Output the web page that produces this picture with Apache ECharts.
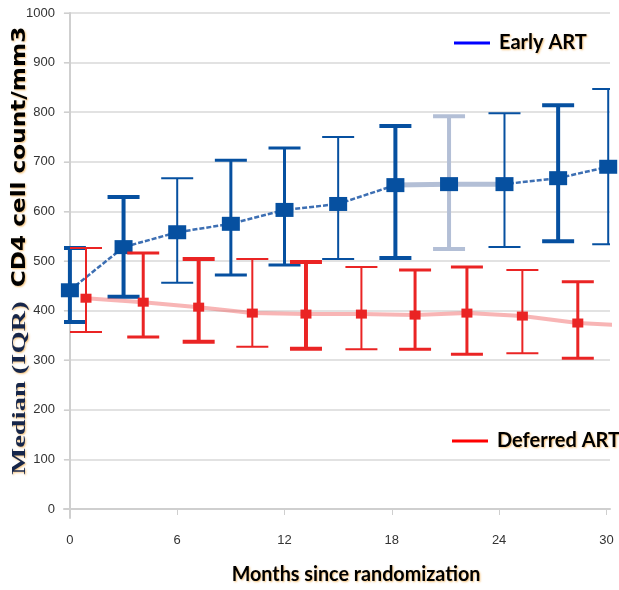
<!DOCTYPE html>
<html>
<head>
<meta charset="utf-8">
<script src="https://cdn.jsdelivr.net/npm/echarts@6/dist/echarts.min.js"></script>
<style>
html,body{margin:0;padding:0;background:#fff;}
#chart{width:619px;height:590px;}
</style>
</head>
<body>
<div id="chart"></div>
<script>
// ---- data ----
const xTicks = [0, 6, 12, 18, 24, 30];
const yTicks = [0, 100, 200, 300, 400, 500, 600, 700, 800, 900, 1000];

const earlyMonths = [0, 3, 6, 9, 12, 15, 18.2, 21.2, 24.3, 27.3, 30.1];
const earlyMedian = [441, 528, 558, 575, 603, 615, 653, 655, 655, 667, 690];
const earlyQ1     = [377, 428, 456, 472, 492, 504, 506, 524, 528, 540, 534];
const earlyQ3     = [526, 629, 667, 703, 728, 750, 772, 792, 798, 814, 847];

const deferredMonths = [0.9, 4.1, 7.2, 10.2, 13.2, 16.3, 19.3, 22.2, 25.3, 28.4];
const deferredMedian = [425, 417, 407, 395, 393, 393, 391, 395, 389, 375];
const deferredQ1     = [357, 347, 337, 327, 323, 322, 322, 312, 314, 304];
const deferredQ3     = [526, 516, 504, 504, 498, 488, 482, 488, 482, 458];
const deferredTailMonth = 30.5;
const deferredTailValue = 371;

// ---- styles (kept apart from data) ----
const BLUE = '#0650a0';
const BLUE_LIGHT = '#b3bfd6';
const RED = '#ea2424';
const earlyBarWidths = [4, 4, 2, 3, 3, 2, 4, 4, 2, 4, 2];
const earlyBarColors = [BLUE, BLUE, BLUE, BLUE, BLUE, BLUE, BLUE, BLUE_LIGHT, BLUE, BLUE, BLUE];
const deferredBarWidths = [2, 3, 4, 2, 4, 2, 3, 3, 2, 3];

const pairs = (xs, ys) => xs.map((x, i) => [x, ys[i]]);
const bars = (xs, lo, hi) => xs.map((x, i) => [x, lo[i], hi[i], i]);

function errorBarRenderer(widths, colors, capHalf) {
  return function (params, api) {
    const x = api.value(0), lo = api.value(1), hi = api.value(2), idx = api.value(3);
    const pLo = api.coord([x, lo]);
    const pHi = api.coord([x, hi]);
    const w = widths[idx];
    const c = Array.isArray(colors) ? colors[idx] : colors;
    const style = { stroke: c, lineWidth: w };
    return {
      type: 'group',
      children: [
        { type: 'line', shape: { x1: pLo[0], y1: pLo[1], x2: pHi[0], y2: pHi[1] }, style },
        { type: 'line', shape: { x1: pLo[0] - capHalf, y1: pLo[1], x2: pLo[0] + capHalf, y2: pLo[1] }, style },
        { type: 'line', shape: { x1: pHi[0] - capHalf, y1: pHi[1], x2: pHi[0] + capHalf, y2: pHi[1] }, style }
      ]
    };
  };
}

const chart = echarts.init(document.getElementById('chart'), null, { renderer: 'canvas' });
const tickFont = "'Liberation Sans Narrow', 'Arial Narrow', 'Liberation Sans', sans-serif";
const shadow = { textShadowColor: 'rgba(235,150,30,0.6)', textShadowBlur: 2, textShadowOffsetX: 1, textShadowOffsetY: 1 };

chart.setOption({
  animation: false,
  backgroundColor: '#fff',
  grid: { left: 64, right: 9, top: 13, bottom: 72 },
  xAxis: {
    type: 'value', min: -0.33, max: 30.2,
    axisLine: { show: true, lineStyle: { color: '#cfcfcf', width: 2 } },
    axisTick: { show: true, length: 6, lineStyle: { color: '#cfcfcf', width: 1 }, customValues: xTicks },
    axisLabel: { customValues: xTicks, color: '#333', fontSize: 13, fontFamily: tickFont, margin: 16 },
    splitLine: { show: false }
  },
  yAxis: {
    type: 'value', min: -18.1, max: 1000,
    axisLine: { show: true, lineStyle: { color: '#cfcfcf', width: 2 } },
    axisTick: { show: true, length: 6, lineStyle: { color: '#cfcfcf', width: 1 }, customValues: yTicks },
    axisLabel: { customValues: yTicks, formatter: v => String(v), color: '#333', fontSize: 13, fontFamily: tickFont, margin: 9 },
    splitLine: { show: true, lineStyle: { color: '#e2e2e2', width: 2 } }
  },
  legend: [
    {
      left: 449, top: 28, icon: 'rect', itemWidth: 36, itemHeight: 3, itemGap: 10, selectedMode: false,
      data: [{ name: 'Early ART', itemStyle: { color: '#0000ff' } }],
      textStyle: Object.assign({ fontFamily: 'Lato', fontWeight: 'bold', fontSize: 20, color: '#000', padding: [0, 0, 0, 4] }, shadow)
    },
    {
      left: 447, top: 426, icon: 'rect', itemWidth: 36, itemHeight: 3, itemGap: 10, selectedMode: false,
      data: [{ name: 'Deferred ART', itemStyle: { color: '#ff0000' } }],
      textStyle: Object.assign({ fontFamily: 'Lato', fontWeight: 'bold', fontSize: 20, color: '#000', padding: [0, 0, 0, 4] }, shadow)
    }
  ],
  graphic: [
    {
      type: 'text', x: 20, y: 388, rotation: Math.PI / 2, scaleX: 1.5, z: 100,
      style: Object.assign({ text: 'Median (IQR)', font: "bold 19px 'Liberation Serif', serif", fill: '#16264a', align: 'center', verticalAlign: 'middle' }, shadow)
    },
    {
      type: 'text', x: 20, y: 157, rotation: Math.PI / 2, scaleX: 1.22, z: 100,
      style: Object.assign({ text: 'CD4 cell count/mm3', font: "bold 19px 'DejaVu Sans', sans-serif", fill: '#000', align: 'center', verticalAlign: 'middle' }, shadow)
    },
    {
      type: 'text', x: 356, y: 574, scaleX: 0.94, z: 100,
      style: Object.assign({ text: 'Months since randomization', font: "bold 21px Lato, sans-serif", fill: '#000', align: 'center', verticalAlign: 'middle' }, shadow)
    }
  ],
  series: [
    {
      name: 'Early ART', type: 'line', data: pairs(earlyMonths, earlyMedian),
      symbol: 'none', clip: false, z: 2,
      lineStyle: { color: '#3d6fb3', width: 2.5, type: [5, 2] }, itemStyle: { color: BLUE }
    },
    {
      name: 'Early ART band', type: 'line', data: pairs(earlyMonths.slice(6, 9), earlyMedian.slice(6, 9)),
      symbol: 'none', clip: false, z: 2,
      lineStyle: { color: BLUE_LIGHT, width: 5 }
    },
    {
      type: 'custom', name: 'Early IQR', data: bars(earlyMonths, earlyQ1, earlyQ3),
      renderItem: errorBarRenderer(earlyBarWidths, earlyBarColors, 16), clip: true, z: 3
    },
    {
      type: 'scatter', name: 'Early median', data: pairs(earlyMonths, earlyMedian),
      symbol: 'rect', symbolSize: [18, 14], clip: false, z: 4,
      itemStyle: { color: BLUE, opacity: 1 }
    },
    {
      name: 'Deferred ART', type: 'line',
      data: pairs(deferredMonths.concat([deferredTailMonth]), deferredMedian.concat([deferredTailValue])),
      symbol: 'none', clip: false, z: 5,
      lineStyle: { color: 'rgba(240,90,90,0.45)', width: 4 }, itemStyle: { color: RED }
    },
    {
      type: 'custom', name: 'Deferred IQR', data: bars(deferredMonths, deferredQ1, deferredQ3),
      renderItem: errorBarRenderer(deferredBarWidths, RED, 16), clip: true, z: 6
    },
    {
      type: 'scatter', name: 'Deferred median', data: pairs(deferredMonths, deferredMedian),
      symbol: 'rect', symbolSize: [11, 9], clip: false, z: 7,
      itemStyle: { color: RED, opacity: 1 }
    }
  ]
});
</script>
</body>
</html>
